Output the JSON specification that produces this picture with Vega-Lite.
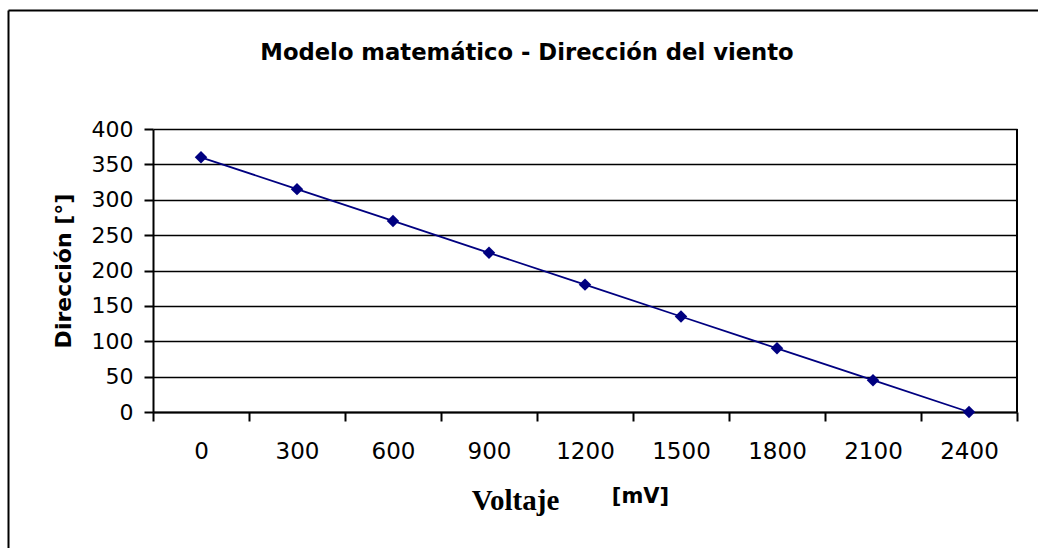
{
  "$schema": "https://vega.github.io/schema/vega-lite/v6.json",
  "width": 1030,
  "height": 538,
  "autosize": {"type": "none"},
  "padding": {"left": 8, "top": 10, "right": 0, "bottom": 0},
  "background": "white",
  "config": {"view": {"stroke": null}, "font": "DejaVu Sans"},
  "title": {
    "text": "Modelo matemático - Dirección del viento",
    "font": "DejaVu Sans",
    "fontSize": 22.7,
    "fontWeight": "bold",
    "color": "black",
    "anchor": "middle",
    "baseline": "alphabetic",
    "offset": -73,
    "dx": 4
  },
  "data": {
    "values": [
      {"v": 0, "d": 360},
      {"v": 300, "d": 315},
      {"v": 600, "d": 270},
      {"v": 900, "d": 225},
      {"v": 1200, "d": 180},
      {"v": 1500, "d": 135},
      {"v": 1800, "d": 90},
      {"v": 2100, "d": 45},
      {"v": 2400, "d": 0}
    ]
  },
  "layer": [
    {
      "mark": {"type": "point", "opacity": 0},
      "encoding": {
        "x": {"field": "v", "type": "quantitative", "axis": {"orient": "top", "domain": true, "domainColor": "black", "domainWidth": 2, "ticks": false, "labels": false, "grid": false, "title": null}},
        "y": {"field": "d", "type": "quantitative", "axis": {"orient": "left", "domain": true, "domainColor": "black", "domainWidth": 2, "ticks": false, "labels": false, "grid": false, "title": null}}
      }
    },
    {
      "layer": [
        {
          "mark": {"type": "line", "color": "#000080", "strokeWidth": 1.8},
          "encoding": {
            "x": {
              "field": "v", "type": "quantitative",
              "scale": {"domain": [-150, 2550], "range": [145, 1009], "nice": false, "zero": false},
              "axis": {
                "orient": "bottom", "offset": -136,
                "values": [-150, 150, 450, 750, 1050, 1350, 1650, 1950, 2250, 2550],
                "labels": false, "grid": false, "title": null,
                "domain": true, "domainColor": "black", "domainWidth": 2,
                "ticks": true, "tickColor": "black", "tickWidth": 2, "tickSize": 9
              }
            },
            "y": {
              "field": "d", "type": "quantitative",
              "scale": {"domain": [0, 400], "range": [402, 119], "nice": false, "zero": false},
              "axis": {
                "orient": "left", "offset": -145,
                "values": [0, 50, 100, 150, 200, 250, 300, 350, 400],
                "format": "d",
                "grid": true, "gridColor": "black", "gridWidth": 1.5, "gridOpacity": 1,
                "domain": true, "domainColor": "black", "domainWidth": 2,
                "ticks": true, "tickColor": "black", "tickWidth": 2, "tickSize": 9,
                "labelFont": "DejaVu Sans", "labelFontSize": 22, "labelColor": "black", "labelPadding": 11,
                "title": "Dirección [°]", "titleFont": "DejaVu Sans", "titleFontSize": 22, "titleFontWeight": "bold", "titleColor": "black",
                "titleX": -90, "titleBaseline": "middle", "titleAngle": -90
              }
            }
          }
        },
        {
          "mark": {"type": "point", "shape": "diamond", "filled": true, "size": 155, "color": "#000080", "opacity": 1},
          "encoding": {
            "x": {
              "field": "v", "type": "quantitative",
              "scale": {"domain": [-150, 2550], "range": [145, 1009], "nice": false, "zero": false},
              "axis": {
                "orient": "bottom", "offset": -136,
                "values": [0, 300, 600, 900, 1200, 1500, 1800, 2100, 2400],
                "format": "d",
                "labels": true, "labelFont": "DejaVu Sans", "labelFontSize": 23, "labelColor": "black",
                "labelBaseline": "alphabetic", "labelPadding": 37, "labelFlush": false, "labelOverlap": false,
                "ticks": true, "tickOpacity": 0, "tickSize": 9,
                "domain": false, "grid": false,
                "title": "Voltaje", "titleFont": "Liberation Serif", "titleFontSize": 29, "titleFontWeight": "bold", "titleColor": "black",
                "titleX": 507, "titleY": 97, "titleBaseline": "alphabetic", "titleAlign": "center"
              }
            },
            "y": {
              "field": "d", "type": "quantitative",
              "scale": {"domain": [0, 400], "range": [402, 119], "nice": false, "zero": false},
              "axis": {
                "orient": "left", "offset": -145,
                "values": [0, 50, 100, 150, 200, 250, 300, 350, 400],
                "format": "d",
                "grid": true, "gridColor": "black", "gridWidth": 1.5, "gridOpacity": 1,
                "domain": true, "domainColor": "black", "domainWidth": 2,
                "ticks": true, "tickColor": "black", "tickWidth": 2, "tickSize": 9,
                "labelFont": "DejaVu Sans", "labelFontSize": 22, "labelColor": "black", "labelPadding": 11,
                "title": "Dirección [°]", "titleFont": "DejaVu Sans", "titleFontSize": 22, "titleFontWeight": "bold", "titleColor": "black",
                "titleX": -90, "titleBaseline": "middle", "titleAngle": -90
              }
            }
          }
        },
        {
          "data": {"values": [{"edge": 2550, "d": 0, "hi": 400}]},
          "mark": {"type": "rule", "color": "black", "strokeWidth": 2},
          "encoding": {
            "x": {
              "field": "edge", "type": "quantitative",
              "scale": {"domain": [-150, 2550], "range": [145, 1009], "nice": false, "zero": false},
              "axis": {
                "orient": "bottom", "offset": -136,
                "labels": false, "ticks": false, "domain": false, "grid": false,
                "title": "[mV]", "titleFont": "DejaVu Sans", "titleFontSize": 21, "titleFontWeight": "bold", "titleColor": "black",
                "titleX": 632, "titleY": 90, "titleBaseline": "alphabetic", "titleAlign": "center"
              }
            },
            "y": {
              "field": "d", "type": "quantitative",
              "scale": {"domain": [0, 400], "range": [402, 119], "nice": false, "zero": false},
              "axis": {
                "orient": "left", "offset": -145,
                "values": [0, 50, 100, 150, 200, 250, 300, 350, 400],
                "format": "d",
                "grid": true, "gridColor": "black", "gridWidth": 1.5, "gridOpacity": 1,
                "domain": true, "domainColor": "black", "domainWidth": 2,
                "ticks": true, "tickColor": "black", "tickWidth": 2, "tickSize": 9,
                "labelFont": "DejaVu Sans", "labelFontSize": 22, "labelColor": "black", "labelPadding": 11,
                "title": "Dirección [°]", "titleFont": "DejaVu Sans", "titleFontSize": 22, "titleFontWeight": "bold", "titleColor": "black",
                "titleX": -90, "titleBaseline": "middle", "titleAngle": -90
              }
            },
            "y2": {"field": "hi"}
          }
        }
      ],
      "resolve": {"axis": {"x": "independent"}}
    }
  ],
  "resolve": {
    "scale": {"x": "independent", "y": "independent"},
    "axis": {"x": "independent", "y": "independent"}
  }
}
